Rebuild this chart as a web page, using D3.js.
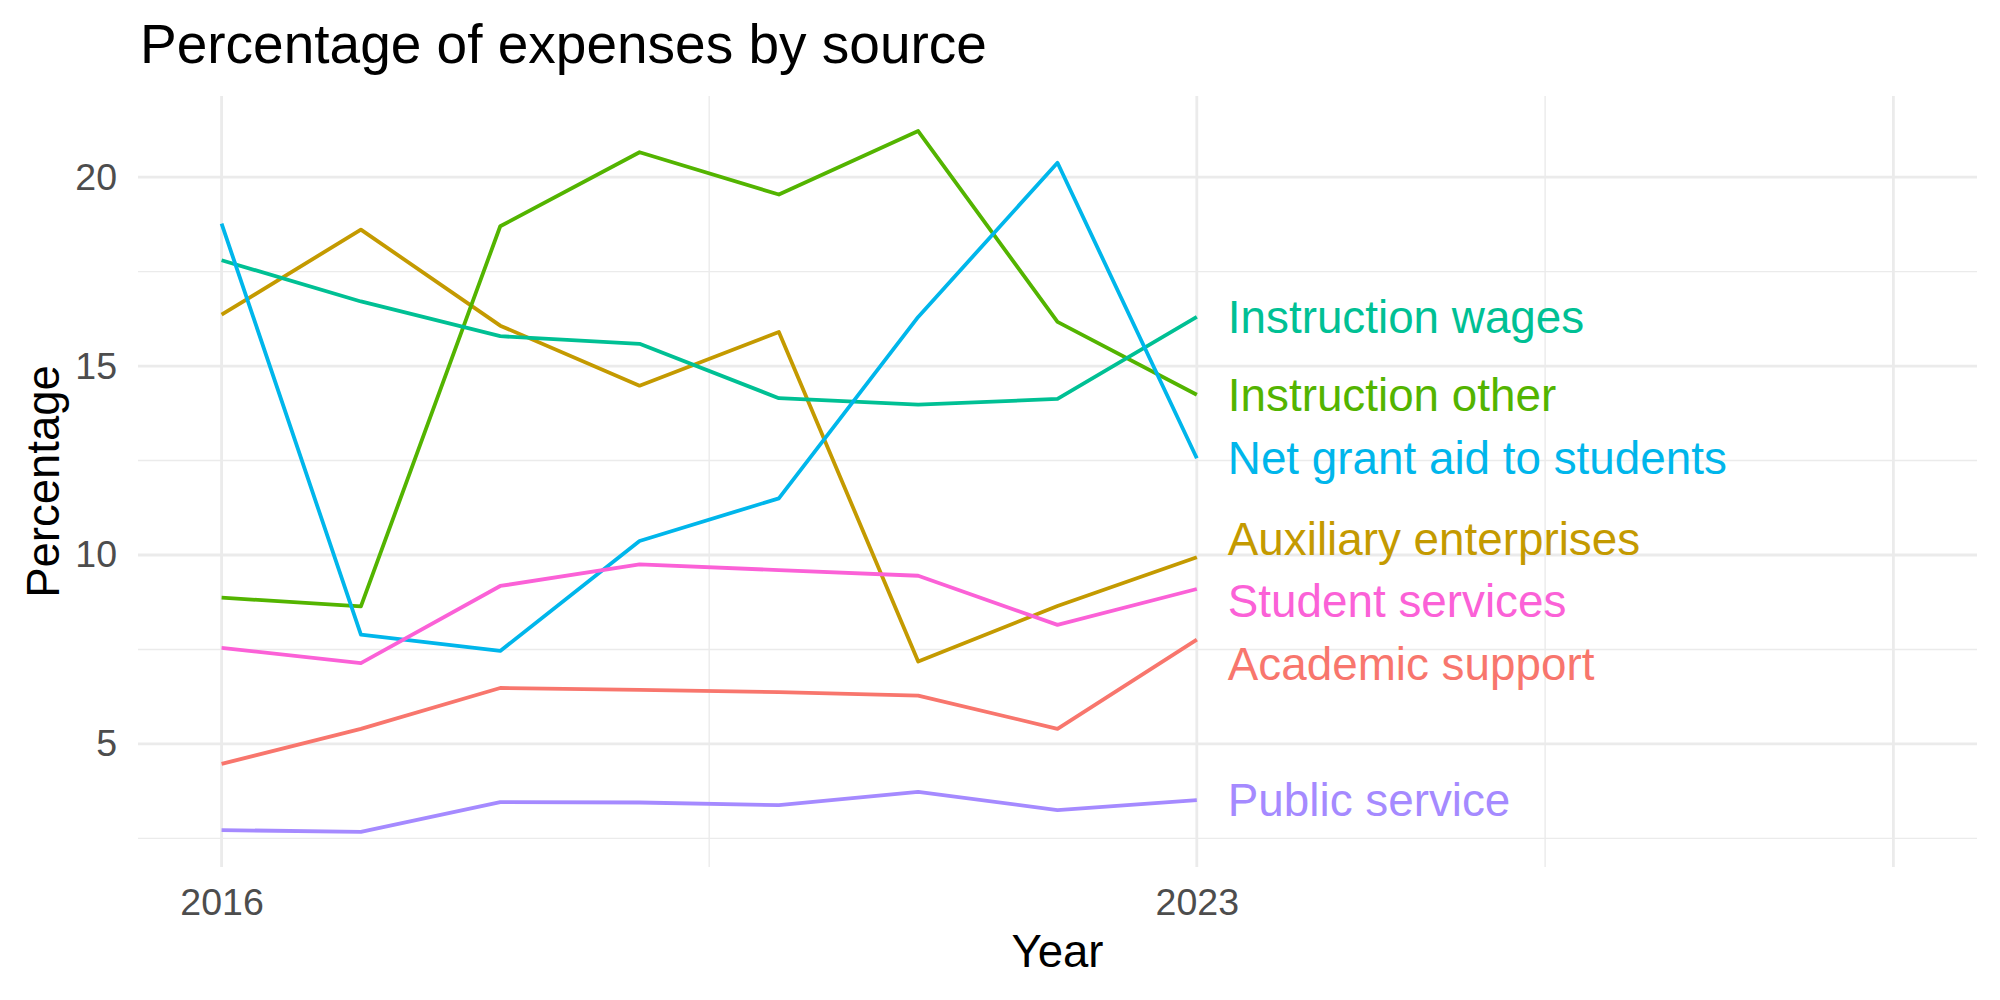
<!DOCTYPE html>
<html>
<head>
<meta charset="utf-8">
<script src="https://cdn.jsdelivr.net/npm/d3@7"></script>
<style>
  body { margin: 0; background: #fff; }
  text { font-family: "Liberation Sans", Arial, Helvetica, sans-serif; }
</style>
</head>
<body>
<script>
        //1. Consts / global variables
            const w = 2000;
            const h = 1000;
            const panel = {left: 138, right: 1977, top: 96, bottom: 867};

        //2. Data
            const years = [2016, 2017, 2018, 2019, 2020, 2021, 2022, 2023];

            const academicSupport      = [4.47, 5.40, 6.48, 6.43, 6.37, 6.28, 5.40, 7.76];
            const auxiliaryEnterprises = [16.36, 18.61, 16.07, 14.48, 15.90, 7.18, 8.65, 9.94];
            const instructionOther     = [8.87, 8.64, 18.70, 20.66, 19.54, 21.22, 16.17, 14.24];
            const instructionWages     = [17.80, 16.71, 15.79, 15.59, 14.15, 13.98, 14.13, 16.30];
            const netGrantAid          = [18.77, 7.89, 7.46, 10.37, 11.50, 16.30, 20.38, 12.56];
            const publicService        = [2.72, 2.67, 3.46, 3.45, 3.38, 3.73, 3.25, 3.51];
            const studentServices      = [7.54, 7.14, 9.18, 9.75, 9.60, 9.45, 8.15, 9.10];

            const seriesNames = ["Academic support", "Auxiliary enterprises", "Instruction other",
                                 "Instruction wages", "Net grant aid to students", "Public service",
                                 "Student services"];
            const seriesValues = [academicSupport, auxiliaryEnterprises, instructionOther,
                                  instructionWages, netGrantAid, publicService, studentServices];
            const seriesColors = ["#F8766D", "#C49A00", "#53B400", "#00C094", "#00B6EB", "#A58AFF", "#FB61D7"];

            const xLimits = [2016, 2028];
            const xBreaks = [2016, 2023, 2028];
            const xBreakLabels = ["2016", "2023", ""];
            const xMinorBreaks = [2019.5, 2025.5];
            const yBreaks = [5, 10, 15, 20];
            const yMinorBreaks = [2.5, 7.5, 12.5, 17.5];

            const series = seriesNames.map((name, i) => ({
                name: name,
                color: seriesColors[i],
                values: years.map((yr, j) => ({year: yr, value: seriesValues[i][j]}))
            }));

        //3. Scales (5% expansion like ggplot)
            const expand = (lo, hi) => [lo - (hi - lo) * 0.05, hi + (hi - lo) * 0.05];
            const allVals = seriesValues.flat();

            const xScale = d3.scaleLinear()
                             .domain(expand(xLimits[0], xLimits[1]))
                             .range([panel.left, panel.right]);

            const yScale = d3.scaleLinear()
                             .domain(expand(d3.min(allVals), d3.max(allVals)))
                             .range([panel.bottom, panel.top]);

        //4. SVG
            const svg = d3.select("body")
                          .append("svg")
                          .attr("width", w)
                          .attr("height", h);

        //5. Grid
            const grid = svg.append("g");

            grid.selectAll(".ymin").data(yMinorBreaks).enter().append("line")
                .attr("x1", panel.left).attr("x2", panel.right)
                .attr("y1", d => yScale(d)).attr("y2", d => yScale(d))
                .attr("stroke", "#EBEBEB").attr("stroke-width", 1.4);

            grid.selectAll(".xmin").data(xMinorBreaks).enter().append("line")
                .attr("y1", panel.top).attr("y2", panel.bottom)
                .attr("x1", d => xScale(d)).attr("x2", d => xScale(d))
                .attr("stroke", "#EBEBEB").attr("stroke-width", 1.4);

            grid.selectAll(".ymaj").data(yBreaks).enter().append("line")
                .attr("x1", panel.left).attr("x2", panel.right)
                .attr("y1", d => yScale(d)).attr("y2", d => yScale(d))
                .attr("stroke", "#EBEBEB").attr("stroke-width", 2.8);

            grid.selectAll(".xmaj").data(xBreaks).enter().append("line")
                .attr("y1", panel.top).attr("y2", panel.bottom)
                .attr("x1", d => xScale(d)).attr("x2", d => xScale(d))
                .attr("stroke", "#EBEBEB").attr("stroke-width", 2.8);

        //6. Lines
            const line = d3.line()
                           .x(d => xScale(d.year))
                           .y(d => yScale(d.value));

            svg.selectAll(".series")
               .data(series)
               .enter()
               .append("path")
               .attr("d", d => line(d.values))
               .attr("fill", "none")
               .attr("stroke", d => d.color)
               .attr("stroke-width", 3.8)
               .attr("stroke-linejoin", "round");

        //7. End labels, pushed apart a little when they would overlap
            const minGap = 62.5;
            const labels = series.map(s => {
                const last = s.values[s.values.length - 1];
                return {name: s.name, color: s.color, x: xScale(last.year), target: yScale(last.value)};
            }).sort((a, b) => a.target - b.target);

            // simple cluster repel: merge overlapping groups, centre them, then nudge down a bit (repel bias)
            let groups = labels.map(l => ({items: [l], mean: l.target}));
            let merged = true;
            while (merged) {
                merged = false;
                for (let i = 0; i < groups.length - 1; i++) {
                    const a = groups[i], b = groups[i + 1];
                    const aBottom = a.mean + (a.items.length - 1) * minGap / 2;
                    const bTop = b.mean - (b.items.length - 1) * minGap / 2;
                    if (bTop - aBottom < minGap) {
                        const items = a.items.concat(b.items);
                        groups.splice(i, 2, {items: items, mean: d3.mean(items, d => d.target)});
                        merged = true;
                        break;
                    }
                }
            }
            groups.forEach(g => {
                const shift = g.items.length > 1 ? 6 : 0;
                g.items.forEach((l, k) => {
                    l.y = g.mean + shift + (k - (g.items.length - 1) / 2) * minGap;
                });
            });

            svg.selectAll(".endlabel")
               .data(labels)
               .enter()
               .append("text")
               .attr("x", d => d.x + 31)
               .attr("y", d => d.y)
               .attr("dy", "0.35em")
               .attr("fill", d => d.color)
               .attr("font-size", 45.8)
               .text(d => d.name);

        //8. Axes (labels only, no lines)
            const bottomAxis = d3.axisBottom(xScale)
                                 .tickValues(xBreaks)
                                 .tickFormat((d, i) => xBreakLabels[i])
                                 .tickSize(0)
                                 .tickPadding(21);

            const leftAxis = d3.axisLeft(yScale)
                               .tickValues(yBreaks)
                               .tickFormat(d3.format("d"))
                               .tickSize(0)
                               .tickPadding(21);

            const gx = svg.append("g")
                          .attr("transform", "translate(0," + panel.bottom + ")")
                          .call(bottomAxis);
            const gy = svg.append("g")
                          .attr("transform", "translate(" + panel.left + ",0)")
                          .call(leftAxis);

            [gx, gy].forEach(g => {
                g.select(".domain").remove();
                g.selectAll("text")
                 .attr("font-family", "'Liberation Sans', Arial, Helvetica, sans-serif")
                 .attr("font-size", 37.5)
                 .attr("fill", "#4D4D4D");
            });

        //9. Titles
            svg.append("text")
               .attr("x", 140)
               .attr("y", 63)
               .attr("font-size", 55)
               .attr("fill", "#000")
               .text("Percentage of expenses by source");

            svg.append("text")
               .attr("x", (panel.left + panel.right) / 2)
               .attr("y", 967)
               .attr("text-anchor", "middle")
               .attr("font-size", 45.5)
               .attr("fill", "#000")
               .text("Year");

            svg.append("text")
               .attr("transform", "translate(59," + (panel.top + panel.bottom) / 2 + ") rotate(-90)")
               .attr("text-anchor", "middle")
               .attr("font-size", 45.5)
               .attr("fill", "#000")
               .text("Percentage");
</script>
</body>
</html>
